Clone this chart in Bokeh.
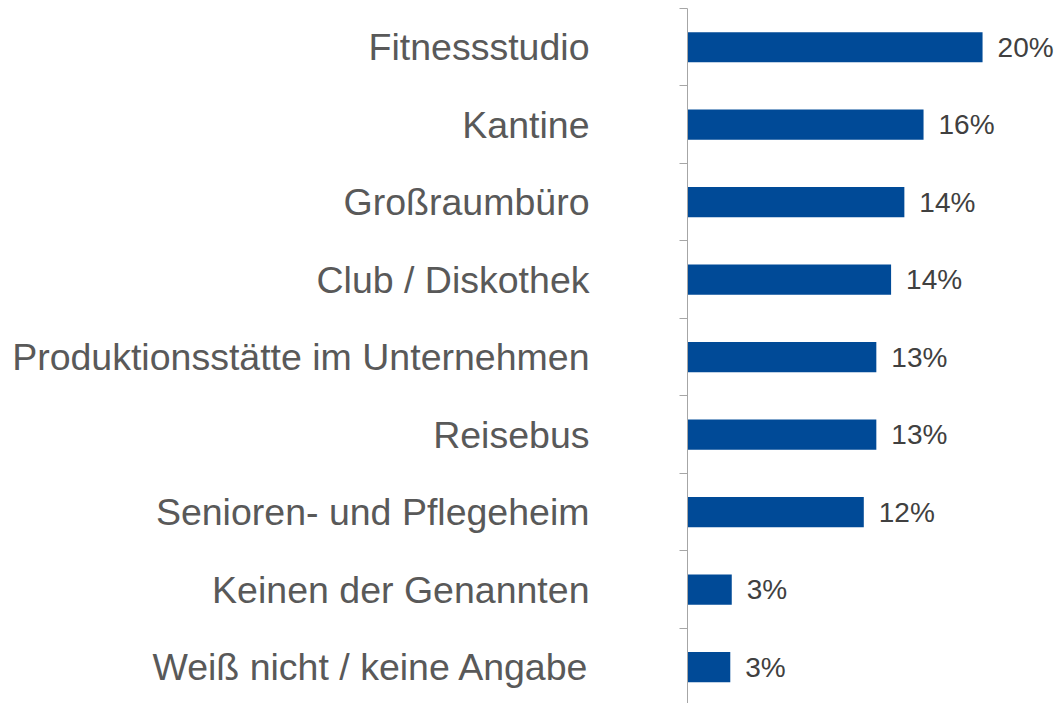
from bokeh.plotting import figure
from bokeh.models import ColumnDataSource, Range1d, FixedTicker
from bokeh.core.properties import value
from bokeh.embed import file_html
from bokeh.resources import INLINE

categories = ["Fitnessstudio", "Kantine", "Großraumbüro", "Club / Diskothek",
              "Produktionsstätte im Unternehmen", "Reisebus",
              "Senioren- und Pflegeheim", "Keinen der Genannten",
              "Weiß nicht / keine Angabe"]
values = [20.0, 16.0, 14.7, 13.8, 12.8, 12.8, 11.95, 3.0, 2.9]
value_labels = ["20%", "16%", "14%", "14%", "13%", "13%", "12%", "3%", "3%"]

positions = list(range(1, len(categories) + 1))

src = ColumnDataSource(dict(y=positions, v=values, lab=value_labels))

# reversed range: first category at top
p = figure(width=1057, height=703, output_backend="svg", toolbar_location=None,
           x_range=Range1d(0, 25.08), y_range=Range1d(9.47, 0.5),
           x_axis_location=None, min_border_left=687, min_border_right=0,
           min_border_top=8, min_border_bottom=0)
p.outline_line_color = None
p.xgrid.visible = False
p.ygrid.visible = False
p.background_fill_color = "white"
p.border_fill_color = "white"

p.hbar(y="y", right="v", left=0, height=0.39, source=src,
       fill_color="#004A97", line_color=None)

p.text(x="v", y="y", text="lab", source=src, x_offset=15,
       text_font=value("Liberation Sans"), text_font_size="28px",
       text_color="#404040", text_align="left", text_baseline="middle")

ax = p.yaxis[0]
ax.ticker = FixedTicker(ticks=positions,
                        minor_ticks=[i + 0.5 for i in range(0, len(categories) + 1)])
ax.major_label_overrides = {i: c for i, c in zip(positions, categories)}
ax.major_tick_out = 0
ax.major_tick_in = 0
ax.minor_tick_out = 8
ax.minor_tick_in = 0
ax.minor_tick_line_color = "#A6A6A6"
ax.axis_line_color = "#A6A6A6"
ax.axis_line_width = 1
ax.major_label_standoff = 90
ax.major_label_text_font = "Liberation Sans"
ax.major_label_text_font_size = "37.5px"
ax.major_label_text_color = "#595959"

open("out.html", "w").write(file_html(p, INLINE))
